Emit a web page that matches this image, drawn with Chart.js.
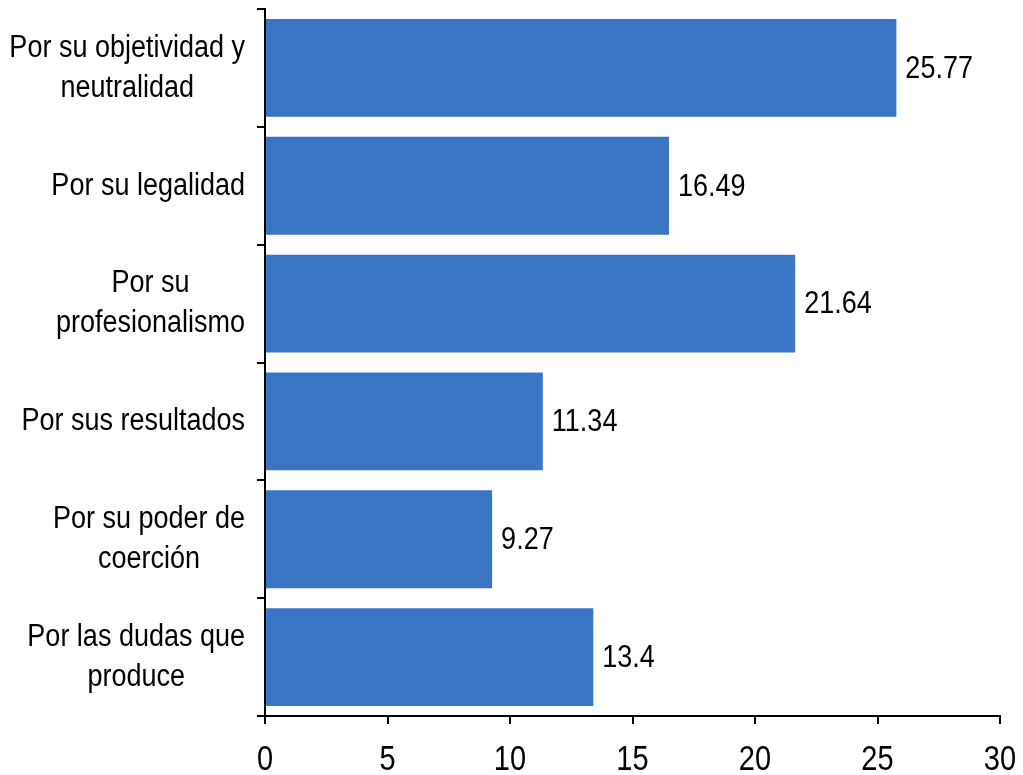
<!DOCTYPE html>
<html>
<head>
<meta charset="utf-8">
<script src="https://cdn.jsdelivr.net/npm/chart.js@4"></script>
<style>
html,body{margin:0;padding:0;background:#fff;}
#wrap{width:1023px;height:775px;position:relative;}
</style>
</head>
<body>
<div id="wrap"><canvas id="c" width="1023" height="775"></canvas></div>
<script>
const categories = [
  ["Por su objetividad y", "neutralidad"],
  ["Por su legalidad"],
  ["Por su", "profesionalismo"],
  ["Por sus resultados"],
  ["Por su poder de", "coerción"],
  ["Por las dudas que", "produce"]
];
const values = [25.77, 16.49, 21.64, 11.34, 9.27, 13.4];
const valueLabels = ["25.77", "16.49", "21.64", "11.34", "9.27", "13.4"];
const xTicks = [0, 5, 10, 15, 20, 25, 30];

const FONT = "'Liberation Sans Narrow', 'Arial Narrow', 'Liberation Sans', sans-serif";
const FS = 27;
const VSTRETCH = 1.18;

function stretchedText(ctx, text, x, y) {
  ctx.save();
  ctx.translate(x, y);
  ctx.scale(1, VSTRETCH);
  ctx.fillText(text, 0, 0);
  ctx.restore();
}

const labelPlugin = {
  id: 'labels',
  afterDatasetsDraw(chart) {
    const ctx = chart.ctx;
    const meta = chart.getDatasetMeta(0);
    ctx.save();
    ctx.fillStyle = '#000';
    ctx.font = FS + 'px ' + FONT;
    ctx.textBaseline = 'middle';
    ctx.textAlign = 'left';
    meta.data.forEach((bar, i) => {
      stretchedText(ctx, valueLabels[i], bar.x + 9, bar.y + 1);
    });
    // category labels: block right-aligned, lines centered in block
    const ys = chart.scales.y;
    const right = 245;
    const lh = 40;
    categories.forEach((lines, i) => {
      const cy = ys.getPixelForValue(i);
      const w = Math.max(...lines.map(l => ctx.measureText(l).width));
      const cx = right - w / 2;
      ctx.textAlign = 'center';
      lines.forEach((l, k) => {
        const y = cy + (k - (lines.length - 1) / 2) * lh;
        stretchedText(ctx, l, cx, y);
      });
    });
    // x tick labels
    const xs = chart.scales.x;
    ctx.font = '29px ' + FONT;
    ctx.textAlign = 'center';
    xTicks.forEach(v => {
      stretchedText(ctx, String(v), xs.getPixelForValue(v), 761);
    });
    ctx.restore();
  }
};

new Chart(document.getElementById('c'), {
  type: 'bar',
  data: {
    labels: categories,
    datasets: [{
      data: values,
      backgroundColor: '#3A75C4',
      borderWidth: 0,
      barPercentage: 0.83,
      categoryPercentage: 1.0
    }]
  },
  options: {
    indexAxis: 'y',
    responsive: false,
    animation: false,
    devicePixelRatio: 1,
    layout: { padding: { top: 9, right: 23, left: 0, bottom: 0 } },
    plugins: { legend: { display: false }, tooltip: { enabled: false } },
    scales: {
      x: {
        min: 0, max: 30,
        afterBuildTicks(scale) { scale.ticks = xTicks.map(v => ({ value: v })); },
        grid: { drawOnChartArea: false, drawTicks: true, tickLength: 8, color: '#000', lineWidth: 2 },
        border: { display: true, color: '#000', width: 2 },
        ticks: { display: false },
        afterFit(scale) { scale.height = 59; }
      },
      y: {
        grid: { offset: true, drawOnChartArea: false, drawTicks: true, tickLength: 8, color: '#000', lineWidth: 2 },
        border: { display: true, color: '#000', width: 2 },
        ticks: { display: false },
        afterFit(scale) { scale.width = 265; }
      }
    }
  },
  plugins: [labelPlugin]
});
</script>
</body>
</html>
